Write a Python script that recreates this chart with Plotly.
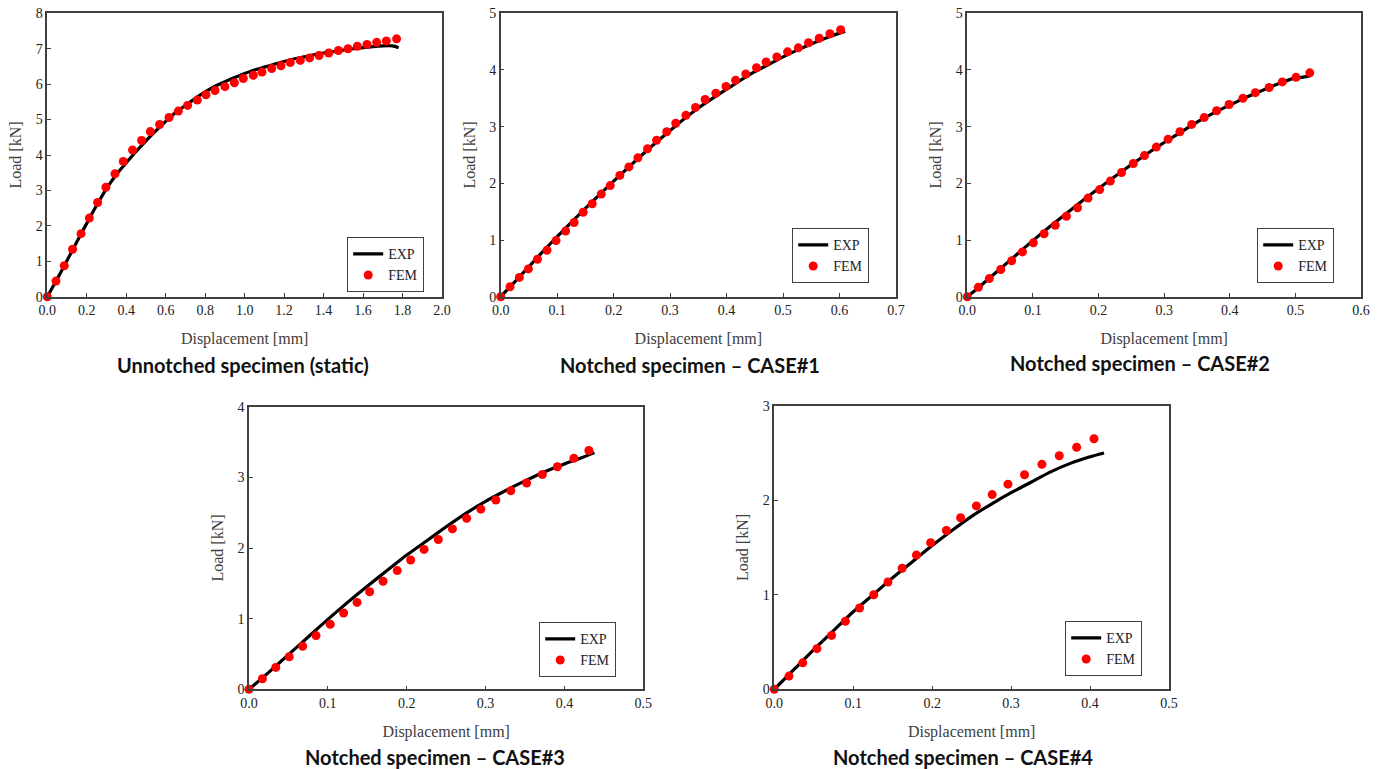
import plotly.graph_objects as go

# ---------------- data ----------------
# Panel 1: Unnotched specimen (static)
p1_exp_x = [0, 0.05, 0.1, 0.15, 0.2, 0.25, 0.3, 0.35, 0.4, 0.45, 0.5, 0.55, 0.6, 0.65, 0.7, 0.75,
            0.8, 0.85, 0.9, 0.95, 1.0, 1.05, 1.1, 1.15, 1.2, 1.25, 1.3, 1.35, 1.4, 1.45, 1.5, 1.55,
            1.6, 1.65, 1.7, 1.75, 1.78]
p1_exp_y = [0, 0.5, 1.02, 1.55, 2.07, 2.58, 3.05, 3.45, 3.78, 4.1, 4.4, 4.68, 4.95, 5.2, 5.4, 5.6,
            5.78, 5.94, 6.07, 6.19, 6.3, 6.4, 6.48, 6.56, 6.64, 6.71, 6.77, 6.83, 6.88, 6.92, 6.96,
            7.0, 7.03, 7.06, 7.08, 7.08, 7.03]
p1_fem_x = [0, 0.044, 0.086, 0.128, 0.171, 0.213, 0.255, 0.297, 0.343, 0.385, 0.432, 0.478, 0.522,
            0.569, 0.617, 0.664, 0.711, 0.760, 0.804, 0.850, 0.900, 0.948, 0.993, 1.044, 1.088,
            1.137, 1.184, 1.231, 1.282, 1.329, 1.377, 1.426, 1.475, 1.524, 1.571, 1.620, 1.669,
            1.718, 1.770]
p1_fem_y = [0, 0.44, 0.875, 1.34, 1.78, 2.22, 2.66, 3.09, 3.47, 3.82, 4.14, 4.41, 4.66, 4.86, 5.06,
            5.24, 5.40, 5.55, 5.70, 5.82, 5.93, 6.04, 6.16, 6.25, 6.34, 6.44, 6.52, 6.61, 6.67, 6.74,
            6.81, 6.88, 6.95, 7.00, 7.07, 7.12, 7.18, 7.22, 7.28]

# Panel 2: Notched specimen - CASE#1
p2_exp_x = [0, 0.02, 0.05, 0.075, 0.1, 0.125, 0.15, 0.175, 0.2, 0.225, 0.25, 0.275, 0.3, 0.325,
            0.35, 0.375, 0.4, 0.425, 0.45, 0.475, 0.5, 0.525, 0.55, 0.575, 0.6, 0.61]
p2_exp_y = [0, 0.21, 0.53, 0.8, 1.06, 1.31, 1.56, 1.8, 2.04, 2.27, 2.5, 2.72, 2.93, 3.14, 3.33,
            3.5, 3.66, 3.82, 3.97, 4.1, 4.23, 4.35, 4.46, 4.56, 4.65, 4.68]
p2_fem_x = [0, 0.0165, 0.033, 0.049, 0.065, 0.082, 0.098, 0.115, 0.130, 0.146, 0.162, 0.178, 0.194,
            0.211, 0.227, 0.243, 0.260, 0.276, 0.294, 0.310, 0.328, 0.345, 0.362, 0.381, 0.399,
            0.416, 0.434, 0.453, 0.470, 0.489, 0.508, 0.527, 0.545, 0.564, 0.583, 0.602]
p2_fem_y = [0, 0.176, 0.34, 0.49, 0.66, 0.82, 0.99, 1.16, 1.31, 1.49, 1.64, 1.81, 1.96, 2.14, 2.29,
            2.45, 2.61, 2.76, 2.91, 3.06, 3.2, 3.34, 3.48, 3.59, 3.71, 3.82, 3.93, 4.04, 4.14, 4.23,
            4.32, 4.39, 4.48, 4.56, 4.64, 4.71]

# Panel 3: Notched specimen - CASE#2
p3_exp_x = [0, 0.02, 0.05, 0.075, 0.1, 0.125, 0.15, 0.175, 0.2, 0.225, 0.25, 0.275, 0.3, 0.325,
            0.35, 0.375, 0.4, 0.425, 0.45, 0.475, 0.5, 0.51, 0.523]
p3_exp_y = [0, 0.19, 0.49, 0.74, 0.99, 1.23, 1.46, 1.69, 1.91, 2.12, 2.33, 2.53, 2.72, 2.9, 3.08,
            3.24, 3.38, 3.52, 3.64, 3.76, 3.86, 3.87, 3.9]
p3_fem_x = [0, 0.0168, 0.0335, 0.051, 0.0676, 0.084, 0.1006, 0.117, 0.134, 0.151, 0.168, 0.184,
            0.2017, 0.218, 0.235, 0.253, 0.270, 0.288, 0.306, 0.324, 0.342, 0.361, 0.380, 0.399,
            0.420, 0.439, 0.460, 0.480, 0.501, 0.522]
p3_fem_y = [0, 0.165, 0.32, 0.48, 0.635, 0.79, 0.95, 1.11, 1.26, 1.42, 1.57, 1.74, 1.89, 2.04, 2.19,
            2.35, 2.49, 2.64, 2.78, 2.91, 3.04, 3.16, 3.28, 3.39, 3.5, 3.6, 3.69, 3.79, 3.87, 3.95]

# Panel 4: Notched specimen - CASE#3
p4_exp_x = [0, 0.025, 0.05, 0.075, 0.1, 0.125, 0.15, 0.175, 0.2, 0.225, 0.25, 0.275, 0.3, 0.325,
            0.35, 0.375, 0.4, 0.42, 0.438]
p4_exp_y = [0, 0.24, 0.49, 0.74, 0.99, 1.23, 1.46, 1.68, 1.9, 2.1, 2.3, 2.49, 2.66, 2.81, 2.95,
            3.08, 3.19, 3.27, 3.35]
p4_fem_x = [0, 0.017, 0.034, 0.051, 0.068, 0.085, 0.103, 0.120, 0.137, 0.153, 0.170, 0.188, 0.205,
            0.222, 0.240, 0.258, 0.276, 0.294, 0.313, 0.332, 0.352, 0.372, 0.391, 0.412, 0.431]
p4_fem_y = [0, 0.15, 0.31, 0.46, 0.61, 0.76, 0.92, 1.08, 1.23, 1.38, 1.53, 1.68, 1.83, 1.98, 2.12,
            2.27, 2.42, 2.55, 2.68, 2.81, 2.92, 3.04, 3.15, 3.27, 3.38]

# Panel 5: Notched specimen - CASE#4
p5_exp_x = [0, 0.025, 0.05, 0.075, 0.1, 0.125, 0.15, 0.175, 0.2, 0.225, 0.25, 0.275, 0.3, 0.325,
            0.35, 0.375, 0.4, 0.4177]
p5_exp_y = [0, 0.21, 0.42, 0.62, 0.82, 1.0, 1.18, 1.35, 1.52, 1.68, 1.83, 1.96, 2.08, 2.19, 2.3,
            2.39, 2.46, 2.5]
p5_fem_x = [0, 0.0186, 0.036, 0.054, 0.0726, 0.090, 0.108, 0.126, 0.144, 0.162, 0.180, 0.198,
            0.218, 0.236, 0.256, 0.276, 0.296, 0.317, 0.339, 0.361, 0.383, 0.405]
p5_fem_y = [0, 0.14, 0.28, 0.43, 0.57, 0.72, 0.86, 1.0, 1.135, 1.28, 1.42, 1.55, 1.68, 1.815, 1.94,
            2.06, 2.17, 2.27, 2.38, 2.47, 2.56, 2.65]

panel_titles = ["Unnotched specimen (static)", "Notched specimen – CASE#1",
                "Notched specimen – CASE#2", "Notched specimen – CASE#3",
                "Notched specimen – CASE#4"]
x_ranges = [[0, 2.0], [0, 0.7], [0, 0.6], [0, 0.5], [0, 0.5]]
x_dticks = [0.2, 0.1, 0.1, 0.1, 0.1]
y_ranges = [[0, 8], [0, 5], [0, 5], [0, 4], [0, 3]]
series_names = ["EXP", "FEM"]
x_title = "Displacement [mm]"
y_title = "Load [kN]"

exp_x = [p1_exp_x, p2_exp_x, p3_exp_x, p4_exp_x, p5_exp_x]
exp_y = [p1_exp_y, p2_exp_y, p3_exp_y, p4_exp_y, p5_exp_y]
fem_x = [p1_fem_x, p2_fem_x, p3_fem_x, p4_fem_x, p5_fem_x]
fem_y = [p1_fem_y, p2_fem_y, p3_fem_y, p4_fem_y, p5_fem_y]

# ---------------- layout geometry (pixels of a 1382x769 page) ----------------
W, H = 1382, 769
# plot area boxes: left, right, top, bottom in px
boxes = [(47.3, 442.0, 13.3, 296.7),
         (500.7, 896.0, 13.3, 296.7),
         (967.3, 1361.0, 13.3, 296.7),
         (249.0, 643.3, 406.7, 689.3),
         (774.3, 1169.0, 405.7, 689.3)]
legend_pos = [(347, 237), (792, 228), (1257, 228), (539, 622), (1065, 621)]
title_pos = [(243, 365), (690, 365), (1140, 363), (435, 757), (963, 757)]

serif = "Liberation Serif, Times New Roman, serif"
axis_col = "#404040"

fig = go.Figure()
layout = dict(width=W, height=H, margin=dict(l=0, r=0, t=0, b=0, autoexpand=False),
              paper_bgcolor="white", plot_bgcolor="white", annotations=[])

for i in range(5):
    sfx = "" if i == 0 else str(i + 1)
    leg = "legend" if i == 0 else "legend" + str(i + 1)
    fig.add_trace(go.Scatter(x=exp_x[i], y=exp_y[i], mode="lines", name=series_names[0],
                             line=dict(color="black", width=3.2, shape="spline", smoothing=0.6),
                             xaxis="x" + sfx, yaxis="y" + sfx, legend=leg, cliponaxis=False))
    fig.add_trace(go.Scatter(x=fem_x[i], y=fem_y[i], mode="markers", name=series_names[1],
                             marker=dict(color="#ff0000", size=9, symbol="circle"),
                             xaxis="x" + sfx, yaxis="y" + sfx, legend=leg, cliponaxis=False))
    l, r, t, b = boxes[i]
    common = dict(showline=True, mirror=True, linecolor=axis_col, linewidth=1.5,
                  ticks="inside", ticklen=4, tickcolor=axis_col, tickwidth=1.2,
                  showgrid=False, zeroline=False, fixedrange=True, automargin=False,
                  tickfont=dict(family=serif, size=14, color="#222222"))
    layout["xaxis" + sfx] = dict(common, domain=[l / W, r / W], range=x_ranges[i],
                                 anchor="y" + sfx, dtick=x_dticks[i], tick0=0, tickformat=".1f",
                                 title=dict(text=x_title, standoff=16,
                                            font=dict(family=serif, size=16, color=axis_col)))
    layout["yaxis" + sfx] = dict(common, domain=[1 - b / H, 1 - t / H], range=y_ranges[i],
                                 anchor="x" + sfx, dtick=1, tick0=0,
                                 title=dict(text=y_title, standoff=10,
                                            font=dict(family=serif, size=16, color=axis_col)))
    lx, ly = legend_pos[i]
    layout[leg] = dict(x=lx / W, y=1 - ly / H, xanchor="left", yanchor="top",
                       bordercolor=axis_col, borderwidth=1.2, bgcolor="white",
                       font=dict(family=serif, size=14, color="#222222"),
                       itemwidth=30, tracegroupgap=0)
    tx, ty = title_pos[i]
    layout["annotations"].append(dict(text="<b>" + panel_titles[i] + "</b>", x=tx / W, y=1 - ty / H,
                                      xref="paper", yref="paper", showarrow=False,
                                      xanchor="center", yanchor="middle",
                                      font=dict(family="Lato, Open Sans, sans-serif", size=20,
                                                color="#111111")))

fig.update_layout(**layout)
fig.write_html("out.html", config={"displayModeBar": False},
               post_script="document.body.style.margin='0';document.body.style.overflow='hidden';")
